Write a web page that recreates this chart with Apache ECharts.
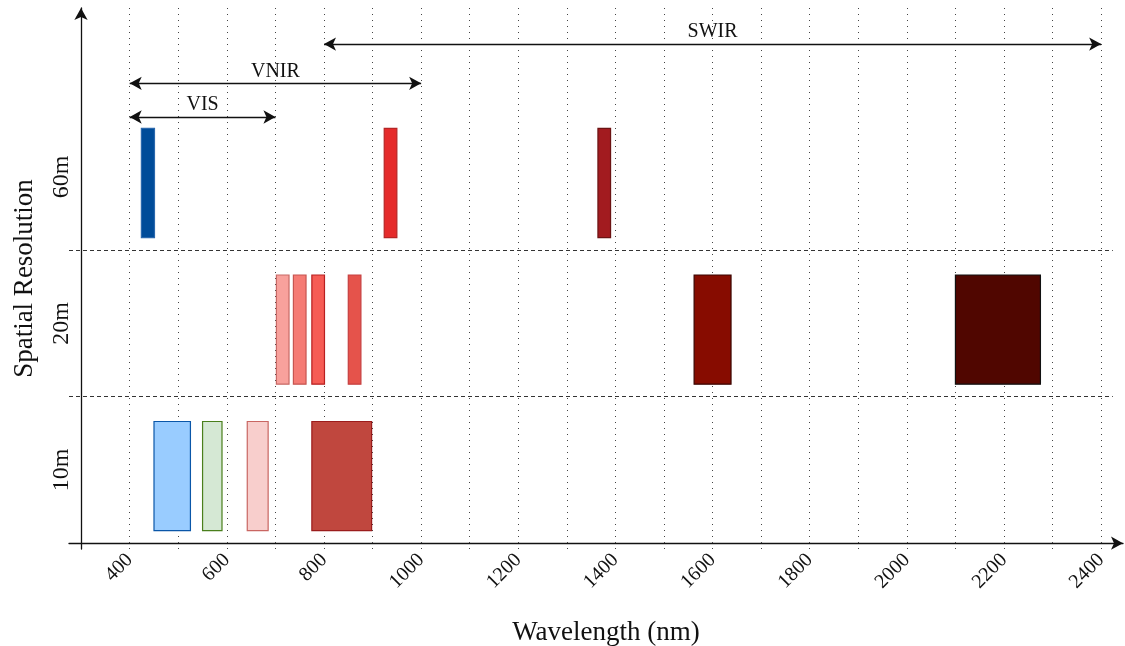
<!DOCTYPE html>
<html lang="en">
<head>
<meta charset="UTF-8">
<title>Spectral bands by spatial resolution</title>
<script src="https://cdn.jsdelivr.net/npm/echarts@6/dist/echarts.min.js"></script>
<style>html, body { margin: 0; padding: 0; background: #fff; }</style>
</head>
<body>
<div id="chart" style="width: 1125px; height: 646px;"></div>
<script>
// rows of the y axis (bottom to top)
var rowLabels = ['10m', '20m', '60m'];
// x tick labels and dotted grid lines (nm)
var tickLabels = [400, 600, 800, 1000, 1200, 1400, 1600, 1800, 2000, 2200, 2400];
var gridLines = [400, 500, 600, 700, 800, 900, 1000, 1100, 1200, 1300, 1400, 1500, 1600, 1700, 1800, 1900, 2000, 2100, 2200, 2300, 2400];

// spectral bands: lower / upper wavelength (nm) and resolution row
var bandLo  = [424, 450, 550, 642, 702, 737, 775, 775, 850, 924, 1364, 1562, 2100];
var bandHi  = [451, 525, 590, 685, 728, 763, 801, 898, 876, 950, 1390, 1638, 2275];
var bandRow = [2,   0,   0,   0,   1,   1,   1,   0,   1,   2,   2,    1,    1];

// spectral ranges shown with arrows
var rangeNames = ['VIS', 'VNIR', 'SWIR'];
var rangeLo = [400, 400, 800];
var rangeHi = [700, 1000, 2400];

// styles
var bandFill   = ['#004c99', '#99ccff', '#d5e8d4', '#f8cecc', '#f8a19c', '#f57b74', '#f65c55', '#c0473e', '#e5534b', '#e52b2b', '#a21b1f', '#870c00', '#500600'];
var bandStroke = ['#2a68ad', '#0a56a8', '#4a7f1c', '#c96662', '#c86a66', '#c65550', '#b82020', '#9b1c1c', '#c64040', '#b52525', '#6b1313', '#3a0500', '#111111'];
var arrowLevel = [2.908, 3.138, 3.406];
var font = '"Liberation Serif", "Times New Roman", serif';
var ink = '#111';

var xMin = 275, xMax = 2445, yMin = -0.04, yMax = 3.652;

var chart = echarts.init(document.getElementById('chart'));

var option = {
    animation: false,
    grid: { left: 69, right: 2, top: 8, bottom: 97, containLabel: false, outerBoundsMode: 'none' },
    xAxis: {
        type: 'value', min: xMin, max: xMax,
        axisLine: { show: true, onZero: true, symbol: ['none', 'arrow'], symbolSize: [10, 12], lineStyle: { color: ink, width: 1.3 } },
        axisTick: { show: false },
        splitLine: { show: false },
        axisLabel: {
            customValues: tickLabels, rotate: 45, margin: 8,
            formatter: function (v) { return String(v); },
            fontSize: 20, fontFamily: font, color: ink
        },
        name: 'Wavelength (nm)', nameLocation: 'middle', nameGap: 70,
        nameTextStyle: { fontSize: 27, fontFamily: font, color: ink, padding: [0, 0, 0, 20] }
    },
    yAxis: {
        type: 'value', min: yMin, max: yMax, offset: -12,
        axisLine: { show: true, onZero: false, symbol: ['none', 'arrow'], symbolSize: [10, 12], lineStyle: { color: ink, width: 1.3 } },
        axisTick: { show: false },
        splitLine: { show: false },
        axisLabel: {
            customValues: [0.5, 1.5, 2.5], rotate: 90, margin: 7,
            formatter: function (v) { return rowLabels[Math.floor(v)]; },
            fontSize: 24, fontFamily: font, color: ink
        },
        name: 'Spatial Resolution', nameLocation: 'middle', nameRotate: 90, nameGap: 43,
        nameTextStyle: { fontSize: 27, fontFamily: font, color: ink }
    },
    series: [
        {
            type: 'line', data: [], z: 1,
            markLine: {
                z: 1, silent: true, animation: false, symbol: 'none', label: { show: false },
                lineStyle: { type: [1, 5], color: '#444', width: 1 },
                data: gridLines.map(function (v) { return { xAxis: v }; })
            }
        },
        {
            type: 'line', data: [], z: 2,
            markLine: {
                z: 2, silent: true, animation: false, symbol: 'none', label: { show: false },
                lineStyle: { type: [4, 3], color: '#333', width: 1.2 },
                data: [1, 2].map(function (v) { return [{ coord: [xMin, v] }, { coord: [2424, v] }]; })
            }
        },
        {
            type: 'custom', z: 10,
            encode: { x: [0, 1], y: 2 },
            data: bandLo.map(function (lo, i) { return [lo, bandHi[i], bandRow[i], i]; }),
            renderItem: function (params, api) {
                var i = api.value(3);
                var p0 = api.coord([api.value(0), api.value(2) + 0.83]);
                var p1 = api.coord([api.value(1), api.value(2) + 0.085]);
                return {
                    type: 'rect',
                    shape: { x: p0[0], y: p0[1], width: p1[0] - p0[0], height: p1[1] - p0[1] },
                    style: { fill: bandFill[i], stroke: bandStroke[i], lineWidth: 1.2 }
                };
            }
        },
        {
            type: 'line', data: [], z: 11,
            markLine: {
                z: 11, silent: true, animation: false,
                symbol: ['arrow', 'arrow'], symbolSize: [10, 12],
                lineStyle: { type: 'solid', color: ink, width: 1.3 },
                label: { show: true, position: 'insideMiddleTop', distance: 2, formatter: '{b}', fontSize: 20, fontFamily: font, color: ink },
                data: rangeNames.map(function (n, i) {
                    return [{ name: n, coord: [rangeLo[i], arrowLevel[i]] }, { name: n, coord: [rangeHi[i], arrowLevel[i]] }];
                })
            }
        }
    ]
};

chart.setOption(option);
</script>
</body>
</html>
